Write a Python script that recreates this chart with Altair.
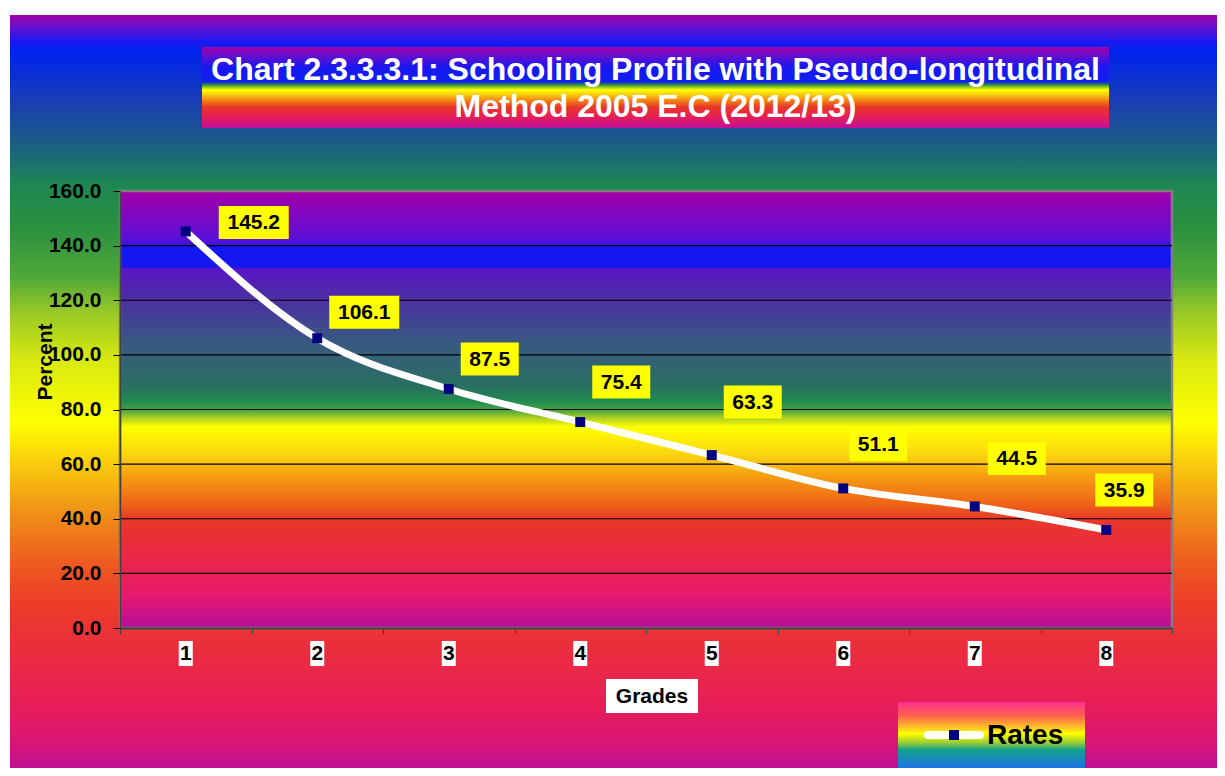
import altair as alt
import pandas as pd

# ---------------- data ----------------
grades = [1, 2, 3, 4, 5, 6, 7, 8]
rates = [145.2, 106.1, 87.5, 75.4, 63.3, 51.1, 44.5, 35.9]
rate_labels = ["145.2", "106.1", "87.5", "75.4", "63.3", "51.1", "44.5", "35.9"]
y_ticks = [0, 20, 40, 60, 80, 100, 120, 140, 160]
x_tick_edges = [0.5, 1.5, 2.5, 3.5, 4.5, 5.5, 6.5, 7.5, 8.5]
title_lines = ["Chart 2.3.3.3.1: Schooling Profile with Pseudo-longitudinal",
               "Method 2005 E.C (2012/13)"]
x_title = "Grades"
y_title = "Percent"
legend_label = "Rates"

df = pd.DataFrame({"grade": grades, "rate": rates, "label": rate_labels})
grid_df = pd.DataFrame({"v": [v for v in y_ticks if 0 < v < 160]})
one = pd.DataFrame({"k": [0]})

W, H = 1052, 437
FONT = "Liberation Sans"

xs = alt.Scale(domain=[0.5, 8.5], nice=False, zero=False)
ys = alt.Scale(domain=[0, 160], nice=False)


def grad(stops):
    return {"gradient": "linear", "x1": 0, "y1": 0, "x2": 0, "y2": 1,
            "stops": [{"offset": o, "color": c} for o, c in stops]}


outer_grad = grad([
    (0.0, "#a000a8"), (0.013, "#7010c8"), (0.033, "#2018f0"), (0.046, "#0022f0"),
    (0.118, "#1a40b0"), (0.171, "#1a6080"), (0.224, "#1e8850"), (0.276, "#2a9040"),
    (0.342, "#50a838"), (0.388, "#98c828"), (0.45, "#d8e810"), (0.532, "#ffff00"),
    (0.598, "#f8c010"), (0.65, "#f09018"), (0.716, "#ee5a20"), (0.769, "#ec3c28"),
    (0.834, "#ea2c40"), (0.90, "#e81e58"), (0.953, "#d81478"), (1.0, "#b010a0"),
])

plot_grad = grad([
    (0.0, "#a400a8"), (0.11, "#5a10d8"), (0.124, "#3a12e0"), (0.126, "#1418f0"),
    (0.174, "#1418f0"), (0.178, "#5a14c8"), (0.25, "#4a30a0"), (0.35, "#385a80"),
    (0.45, "#287060"), (0.48, "#208a50"), (0.5, "#40a040"), (0.52, "#b0d020"),
    (0.54, "#ffff00"), (0.6, "#fcd810"), (0.65, "#f6a010"), (0.72, "#ee6018"),
    (0.75, "#e83828"), (0.82, "#ea2a40"), (0.92, "#e81a6a"), (1.0, "#b80c9c"),
])

title_grad = grad([
    (0.0, "#a000a8"), (0.12, "#6010d0"), (0.25, "#1818f0"), (0.43, "#1020f0"),
    (0.46, "#208050"), (0.5, "#a0d020"), (0.53, "#ffff00"), (0.6, "#f8c010"),
    (0.68, "#f07018"), (0.74, "#e83828"), (0.85, "#e82050"), (1.0, "#c0109a"),
])

legend_grad = grad([
    (0.0, "#ff3090"), (0.2, "#ff6050"), (0.4, "#ffd020"), (0.47, "#ffff00"),
    (0.6, "#a0d030"), (0.72, "#10a090"), (1.0, "#2070e8"),
])

layers = []

# outer chart background
layers.append(alt.Chart(one).mark_rect(fill=outer_grad).encode(
    x=alt.value(-110), x2=alt.value(1110), y=alt.value(-176), y2=alt.value(590)))

# title box + title text
layers.append(alt.Chart(one).mark_rect(fill=title_grad).encode(
    x=alt.value(82), x2=alt.value(989), y=alt.value(-144), y2=alt.value(-63)))
for i, (line, yb) in enumerate(zip(title_lines, [-111, -74])):
    layers.append(alt.Chart(one).mark_text(
        text=line, font=FONT, fontSize=32, fontWeight="bold", color="white",
        align="center", baseline="alphabetic").encode(
        x=alt.value(535.5), y=alt.value(yb)))

# plot area
layers.append(alt.Chart(one).mark_rect(fill=plot_grad, stroke="#808080", strokeWidth=2.5).encode(
    x=alt.value(0), x2=alt.value(W), y=alt.value(0), y2=alt.value(H)))

# gridlines (carry the y axis)
layers.append(alt.Chart(grid_df).mark_rule(color="black", strokeWidth=1.2).encode(
    y=alt.Y("v:Q", scale=ys, axis=alt.Axis(
        values=y_ticks, format=".1f", title=None, grid=False, zindex=1,
        labelFont=FONT, labelFontSize=21, labelFontWeight="bold", labelColor="black",
        tickColor="black", tickSize=7, labelPadding=12,
        domainColor="#404040", domainWidth=1.5))))

# line (carries the x axis)
layers.append(alt.Chart(df).mark_line(color="white", strokeWidth=7, interpolate="monotone").encode(
    x=alt.X("grade:Q", scale=xs, axis=alt.Axis(
        values=x_tick_edges, labels=False, title=None, grid=False, zindex=1,
        tickColor="#404040", tickSize=6, domainColor="#404040", domainWidth=2)),
    y=alt.Y("rate:Q", scale=ys)))

layers.append(alt.Chart(df).mark_point(shape="square", filled=True, color="#000080",
                                       size=100, opacity=1).encode(
    x=alt.X("grade:Q", scale=xs), y=alt.Y("rate:Q", scale=ys)))

# data labels: per-grade placement (dx, dy, box width) -- styling only
label_style = {1: (68, -9, 70), 2: (47, -26, 70), 3: (41, -30, 58), 4: (41, -40, 58),
               5: (41, -53, 58), 6: (35, -44, 58), 7: (42, -48, 58), 8: (18, -40, 58)}
for g, (dx, dy, w) in label_style.items():
    base = alt.Chart(df).transform_filter(alt.datum.grade == g)
    layers.append(base.mark_rect(color="#ffff00", opacity=1,
                                 xOffset=dx - w / 2, x2Offset=dx + w / 2,
                                 yOffset=dy - 16.5, y2Offset=dy + 16.5).encode(
        x=alt.X("grade:Q", scale=xs), x2="grade:Q",
        y=alt.Y("rate:Q", scale=ys), y2="rate:Q"))
    layers.append(base.mark_text(font=FONT, fontSize=21, fontWeight="bold", color="black",
                                 align="center", baseline="middle", dx=dx, dy=dy + 1).encode(
        x=alt.X("grade:Q", scale=xs), y=alt.Y("rate:Q", scale=ys), text="label:N"))

# category labels with white boxes
layers.append(alt.Chart(df).mark_rect(color="white", xOffset=-7, x2Offset=7).encode(
    x=alt.X("grade:Q", scale=xs), x2="grade:Q", y=alt.value(450), y2=alt.value(475)))
layers.append(alt.Chart(df).mark_text(font=FONT, fontSize=21, fontWeight="bold", color="black",
                                      align="center", baseline="middle").encode(
    x=alt.X("grade:Q", scale=xs), y=alt.value(463), text="grade:N"))

# x title box
layers.append(alt.Chart(one).mark_rect(color="white").encode(
    x=alt.value(486), x2=alt.value(578), y=alt.value(488), y2=alt.value(522)))
layers.append(alt.Chart(one).mark_text(text=x_title, font=FONT, fontSize=21, fontWeight="bold",
                                       color="black", align="center", baseline="middle").encode(
    x=alt.value(532), y=alt.value(506)))

# y title
layers.append(alt.Chart(one).mark_text(text=y_title, font=FONT, fontSize=21, fontWeight="bold",
                                       color="black", align="center", baseline="middle",
                                       angle=270).encode(
    x=alt.value(-74), y=alt.value(171)))

# legend
layers.append(alt.Chart(one).mark_rect(fill=legend_grad).encode(
    x=alt.value(778), x2=alt.value(965), y=alt.value(511), y2=alt.value(578)))
layers.append(alt.Chart(one).mark_rule(color="white", strokeWidth=8, strokeCap="round").encode(
    x=alt.value(808), x2=alt.value(860), y=alt.value(544)))
layers.append(alt.Chart(one).mark_point(shape="square", filled=True, color="#000080",
                                        size=100, opacity=1).encode(
    x=alt.value(834), y=alt.value(544)))
layers.append(alt.Chart(one).mark_text(text=legend_label, font=FONT, fontSize=28, fontWeight="bold",
                                       color="black", align="left", baseline="middle").encode(
    x=alt.value(867), y=alt.value(545)))

chart = alt.layer(*layers).properties(
    width=W, height=H,
    autosize=alt.AutoSizeParams(type="none"),
    padding={"left": 112, "top": 183, "right": 45, "bottom": 140},
    background="white",
).configure_view(stroke=None)

chart.save("out.html", embed_options={"renderer": "svg", "actions": False})
